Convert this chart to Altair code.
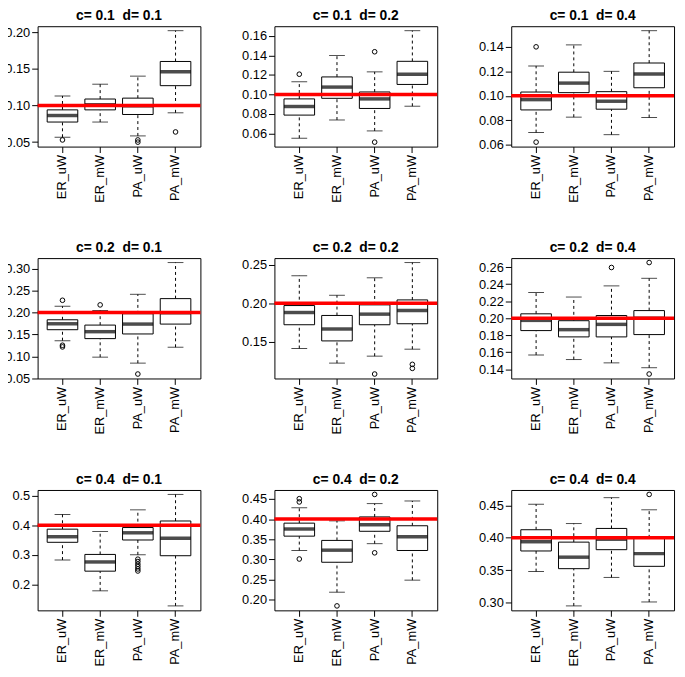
import altair as alt
import pandas as pd

methods = ["ER_uW", "ER_mW", "PA_uW", "PA_mW"]
c_values = [0.1, 0.1, 0.1, 0.2, 0.2, 0.2, 0.4, 0.4, 0.4]
d_values = [0.1, 0.2, 0.4, 0.1, 0.2, 0.4, 0.1, 0.2, 0.4]

whisker_low = [
    [0.0567, 0.0774, 0.0585, 0.0900],
    [0.0553, 0.0739, 0.0627, 0.0880],
    [0.0700, 0.0826, 0.0683, 0.0823],
    [0.1358, 0.0982, 0.0846, 0.1208],
    [0.1415, 0.1226, 0.1316, 0.1406],
    [0.1569, 0.1515, 0.1476, 0.1419],
    [0.2822, 0.1778, 0.3000, 0.1267],
    [0.3218, 0.2179, 0.3388, 0.2479],
    [0.3477, 0.2945, 0.3386, 0.3006],
]
q1 = [
    [0.0774, 0.0940, 0.0877, 0.1270],
    [0.0789, 0.0961, 0.0857, 0.1103],
    [0.0885, 0.1026, 0.0891, 0.1066],
    [0.1607, 0.1404, 0.1510, 0.1735],
    [0.1722, 0.1513, 0.1722, 0.1735],
    [0.1855, 0.1781, 0.1781, 0.1808],
    [0.3422, 0.2444, 0.3500, 0.2967],
    [0.3575, 0.2925, 0.3696, 0.3218],
    [0.3796, 0.3522, 0.3816, 0.3558],
]
median = [
    [0.0863, 0.1010, 0.0995, 0.1460],
    [0.0877, 0.1076, 0.0955, 0.1208],
    [0.0969, 0.1104, 0.0956, 0.1179],
    [0.1742, 0.1562, 0.1735, 0.1990],
    [0.1880, 0.1667, 0.1859, 0.1906],
    [0.1975, 0.1866, 0.1928, 0.2000],
    [0.3611, 0.2756, 0.3744, 0.3556],
    [0.3753, 0.3226, 0.3859, 0.3558],
    [0.3939, 0.3700, 0.3978, 0.3755],
]
q3 = [
    [0.0940, 0.1088, 0.1100, 0.1600],
    [0.0955, 0.1180, 0.1026, 0.1340],
    [0.1031, 0.1193, 0.1034, 0.1268],
    [0.1833, 0.1712, 0.1970, 0.2315],
    [0.1970, 0.1842, 0.1979, 0.2043],
    [0.2052, 0.1971, 0.2032, 0.2090],
    [0.3867, 0.3011, 0.3922, 0.4144],
    [0.3899, 0.3469, 0.4054, 0.3834],
    [0.4125, 0.3933, 0.4145, 0.4000],
]
whisker_high = [
    [0.1130, 0.1290, 0.1400, 0.2020],
    [0.1130, 0.1400, 0.1232, 0.1654],
    [0.1244, 0.1416, 0.1200, 0.1532],
    [0.2142, 0.2044, 0.2413, 0.3136],
    [0.2355, 0.2103, 0.2329, 0.2526],
    [0.2303, 0.2249, 0.2380, 0.2469],
    [0.4367, 0.3789, 0.4522, 0.5044],
    [0.4281, 0.3956, 0.4386, 0.4451],
    [0.4520, 0.4221, 0.4622, 0.4434],
]
outliers = [
    [[0.0530], [], [0.0530, 0.0500], [0.0639]],
    [[0.1208], [], [0.1438, 0.0512], []],
    [[0.1400, 0.0622], [], [], []],
    [[0.2277, 0.1253, 0.1215], [0.2172], [0.0598], []],
    [[], [], [0.1085], [0.1210, 0.1158]],
    [[], [], [0.2596], [0.2654, 0.1345]],
    [[], [], [0.2850, 0.2770, 0.2680, 0.2600, 0.2520, 0.2450], []],
    [[0.4508, 0.4427, 0.3006], [0.1838], [0.4614, 0.3160], []],
    [[], [], [], [0.4672]],
]
y_ticks = [
    [0.05, 0.10, 0.15, 0.20],
    [0.06, 0.08, 0.10, 0.12, 0.14, 0.16],
    [0.06, 0.08, 0.10, 0.12, 0.14],
    [0.05, 0.10, 0.15, 0.20, 0.25, 0.30],
    [0.15, 0.20, 0.25],
    [0.14, 0.16, 0.18, 0.20, 0.22, 0.24, 0.26],
    [0.2, 0.3, 0.4, 0.5],
    [0.20, 0.25, 0.30, 0.35, 0.40, 0.45],
    [0.30, 0.35, 0.40, 0.45],
]
y_formats = [".2f", ".2f", ".2f", ".2f", ".2f", ".2f", ".1f", ".2f", ".2f"]

FONT = "Liberation Sans"


def panel(i):
    box_df = pd.DataFrame({
        "method": methods,
        "lo": whisker_low[i],
        "q1": q1[i],
        "med": median[i],
        "q3": q3[i],
        "hi": whisker_high[i],
    })
    out_rows = [(m, v) for m, vals in zip(methods, outliers[i]) for v in vals]
    out_df = pd.DataFrame(out_rows, columns=["method", "value"])
    allv = whisker_low[i] + whisker_high[i] + [v for _, v in out_rows]
    lo, hi = min(allv), max(allv)
    pad = 0.04 * (hi - lo)
    yscale = alt.Scale(domain=[lo - pad, hi + pad], nice=False, zero=False)
    yaxis = alt.Axis(title=None, values=y_ticks[i], format=y_formats[i])
    xenc = alt.X("method:N", sort=methods,
                 scale=alt.Scale(paddingInner=0, paddingOuter=0.16),
                 axis=alt.Axis(title=None, labelAngle=-90))

    def Y(f):
        return alt.Y(f, type="quantitative", scale=yscale, axis=yaxis)

    base = alt.Chart(box_df)
    w_up = base.mark_rule(color="black", strokeDash=[3, 3], strokeWidth=1).encode(
        x=xenc, y=Y("q3"), y2="hi")
    w_lo = base.mark_rule(color="black", strokeDash=[3, 3], strokeWidth=1).encode(
        x=xenc, y=Y("lo"), y2="q1")
    cap_up = base.mark_tick(color="black", size=16, thickness=1).encode(x=xenc, y=Y("hi"))
    cap_lo = base.mark_tick(color="black", size=16, thickness=1).encode(x=xenc, y=Y("lo"))
    box = base.mark_bar(size=31, fill="white", stroke="black", strokeWidth=1).encode(
        x=xenc, y=Y("q1"), y2="q3")
    med = base.mark_tick(color="black", size=31, thickness=3.5).encode(x=xenc, y=Y("med"))
    pts = alt.Chart(out_df).mark_point(shape="circle", filled=False, color="black",
                                       size=22, strokeWidth=1, opacity=1).encode(
        x=xenc, y=Y("value"))
    red = alt.Chart(pd.DataFrame({"v": [c_values[i]]})).mark_rule(
        color="#ff0000", strokeWidth=3.5).encode(y=Y("v"))
    title = f"c= {c_values[i]}\u00a0 d= {d_values[i]}"
    return alt.layer(w_up, w_lo, cap_up, cap_lo, box, med, pts, red).properties(
        width=165, height=122,
        title=alt.TitleParams(title, font=FONT, fontSize=14, fontWeight="bold",
                              color="black", offset=3))


chart = alt.concat(*[panel(i) for i in range(9)], columns=3,
                   spacing={"row": 113, "column": 75}, bounds="flush").properties(
    padding={"left": -4, "top": -4, "right": 0, "bottom": 0}
).configure_view(stroke="black", strokeWidth=1).configure_axis(
    domain=False, tickColor="black", tickSize=6, tickWidth=1,
    labelColor="black", labelFont=FONT, labelFontSize=13, labelPadding=2,
    grid=False
)

chart.save("out.html", embed_options={"renderer": "svg", "actions": False})
